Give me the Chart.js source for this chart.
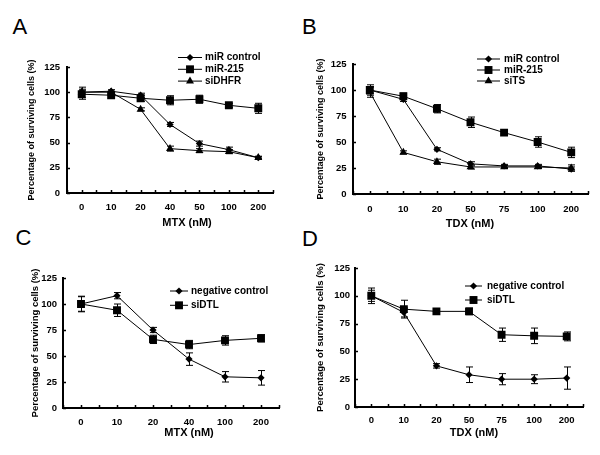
<!DOCTYPE html>
<html>
<head>
<meta charset="utf-8">
<script src="https://cdn.jsdelivr.net/npm/chart.js@4.4.1/dist/chart.umd.min.js"></script>
<style>
    body {
        margin: 0;
        width: 600px;
        height: 455px;
        background: #fff;
        position: relative;
        overflow: hidden;
        font-family: "Liberation Sans", Arial, sans-serif;
    }
    canvas { position: absolute; }
    .panel-letter {
        position: absolute;
        font-size: 22px;
        line-height: 22px;
        color: #000;
    }
    .x-title {
        position: absolute;
        font-size: 11px;
        font-weight: bold;
        line-height: 13px;
        color: #000;
        white-space: nowrap;
        transform: translateX(-50%);
    }
</style>
</head>
<body>
<div class="panel-letter" style="left:12.5px; top:15.7px;">A</div>
<div class="panel-letter" style="left:302px; top:15.5px;">B</div>
<div class="panel-letter" style="left:15.5px; top:226.9px;">C</div>
<div class="panel-letter" style="left:302px; top:227.5px;">D</div>

<canvas id="chartA" width="300" height="229" style="left:0; top:0;"></canvas>
<canvas id="chartB" width="300" height="229" style="left:300px; top:0;"></canvas>
<canvas id="chartC" width="300" height="226" style="left:0; top:229px;"></canvas>
<canvas id="chartD" width="300" height="226" style="left:300px; top:229px;"></canvas>

<div class="x-title" style="left:187px; top:215.6px;">MTX (nM)</div>
<div class="x-title" style="left:470px; top:216.6px;">TDX (nM)</div>
<div class="x-title" style="left:189px; top:425.6px;">MTX (nM)</div>
<div class="x-title" style="left:474px; top:425.6px;">TDX (nM)</div>

<script>
const FONT = '"Liberation Sans", Arial, sans-serif';
const Y_TITLE = 'Percentage of surviving cells (%)';
const Y_TICKS = [0, 25, 50, 75, 100, 125];

// Panel A - MTX
const dosesA = ['0', '10', '20', '40', '50', '100', '200'];
const miRControlA = [100, 101, 97, 68, 49, 43, 35];
const miRControlErrA = [2, 1.5, 2, 2, 2.5, 2.5, 1.5];
const miR215A = [98, 97, 94, 92, 93, 87, 84];
const miR215ErrA = [5, 1.5, 3, 4.5, 4, 2, 5];
const siDHFRA = [100, 100, 83, 44, 42, 41, 35];
const siDHFRErrA = [5, 1, 1.5, 2.5, 2, 2, 1];

// Panel B - TDX
const dosesB = ['0', '10', '20', '50', '75', '100', '200'];
const miRControlB = [100, 91, 43, 29, 27, 27, 24];
const miRControlErrB = [3, 2, 1.5, 2, 1.5, 1.5, 2];
const miR215B = [100, 94, 82, 69, 59, 50, 40];
const miR215ErrB = [5, 3, 4, 5, 2, 5, 5];
const siTSB = [98, 40, 31, 26, 26, 26, 25];
const siTSErrB = [5, 1.5, 2.5, 2, 1.5, 1.5, 3];

// Panel C - MTX
const dosesC = ['0', '10', '20', '40', '100', '200'];
const negControlC = [100, 108, 75, 47, 30, 29];
const negControlErrC = [7.5, 3, 2.5, 6, 5, 7];
const siDTLC = [100, 94, 66, 61, 65, 67];
const siDTLErrC = [7, 6, 4, 4, 4.5, 3.5];

// Panel D - TDX
const dosesD = ['0', '10', '20', '50', '75', '100', '200'];
const negControlD = [100, 85, 37, 29, 25, 25, 26];
const negControlErrD = [7, 4, 2, 7, 5, 4, 10];
const siDTLD = [100, 88, 86, 86, 65, 64, 63.5];
const siDTLErrD = [5, 8, 1.5, 3, 6, 7, 4];

const MARKERS = {
    diamond: { pointStyle: 'rectRot', radius: 3.6 },
    square: { pointStyle: 'rect', radius: 5.6 },
    triangle: { pointStyle: 'triangle', radius: 4.6 }
};

function drawMarker(ctx, style, x, y, r) {
    ctx.beginPath();
    if (style === 'rect') {
        const s = r * Math.SQRT1_2;
        ctx.rect(x - s, y - s, 2 * s, 2 * s);
    } else if (style === 'rectRot') {
        ctx.moveTo(x - r, y);
        ctx.lineTo(x, y - r);
        ctx.lineTo(x + r, y);
        ctx.lineTo(x, y + r);
        ctx.closePath();
    } else {
        ctx.moveTo(x, y - r);
        ctx.lineTo(x + r * Math.cos(Math.PI / 6), y + r / 2);
        ctx.lineTo(x - r * Math.cos(Math.PI / 6), y + r / 2);
        ctx.closePath();
    }
    ctx.fill();
}

// error bars (drawn under the markers) and the small inward tick marks
const errorBarsPlugin = {
    id: 'errorBars',
    beforeDatasetsDraw(chart) {
        const ctx = chart.ctx;
        const xs = chart.scales.x;
        const ys = chart.scales.y;
        ctx.save();
        ctx.strokeStyle = '#000';
        ctx.lineWidth = 1;
        chart.data.datasets.forEach(ds => {
            if (!ds.errors) return;
            ds.data.forEach((v, i) => {
                const e = ds.errors[i];
                const x = Math.round(xs.getPixelForValue(i)) + 0.5;
                const yTop = ys.getPixelForValue(v + e);
                const yBot = ys.getPixelForValue(v - e);
                ctx.beginPath();
                ctx.moveTo(x, yTop);
                ctx.lineTo(x, yBot);
                ctx.moveTo(x - 3.5, yTop);
                ctx.lineTo(x + 3.5, yTop);
                ctx.moveTo(x - 3.5, yBot);
                ctx.lineTo(x + 3.5, yBot);
                ctx.stroke();
            });
        });

        // tick marks
        const area = chart.chartArea;
        ctx.lineWidth = 1.5;
        ctx.beginPath();
        for (let i = -0.5; i <= xs.ticks.length - 0.5; i += 0.5) {
            const x = Math.round(xs.getPixelForValue(i)) + 0.5;
            ctx.moveTo(x, area.bottom);
            ctx.lineTo(x, area.bottom - 3);
        }
        Y_TICKS.forEach(t => {
            const y = Math.round(ys.getPixelForValue(t)) + 0.5;
            ctx.moveTo(area.left, y);
            ctx.lineTo(area.left + 3, y);
        });
        ctx.stroke();
        ctx.restore();
    }
};

// legend with a short line and the marker on it
const lineLegendPlugin = {
    id: 'lineLegend',
    afterDraw(chart, args, opts) {
        const ctx = chart.ctx;
        ctx.save();
        ctx.font = 'bold 10px ' + FONT;
        ctx.textBaseline = 'middle';
        ctx.fillStyle = '#000';
        ctx.strokeStyle = '#000';
        chart.data.datasets.forEach((ds, i) => {
            const y = opts.y0 + i * opts.gap;
            ctx.lineWidth = 1;
            ctx.beginPath();
            ctx.moveTo(opts.x0, y);
            ctx.lineTo(opts.x1, y);
            ctx.stroke();
            drawMarker(ctx, ds.pointStyle, (opts.x0 + opts.x1) / 2, y, ds.pointRadius);
            ctx.fillText(ds.label, opts.textX, y);
        });
        ctx.restore();
    }
};

function makeDataset(label, data, errors, marker) {
    const m = MARKERS[marker];
    return {
        label: label,
        data: data,
        errors: errors,
        borderColor: '#000',
        borderWidth: 1,
        backgroundColor: '#000',
        pointBackgroundColor: '#000',
        pointBorderWidth: 0,
        pointStyle: m.pointStyle,
        pointRadius: m.radius,
        tension: 0
    };
}

function createPanel(id, labels, datasets, lay) {
    const ctx = document.getElementById(id).getContext('2d');
    return new Chart(ctx, {
        type: 'line',
        data: { labels: labels, datasets: datasets },
        options: {
            responsive: false,
            animation: false,
            layout: { padding: { left: 0, top: lay.top, right: lay.right, bottom: 0 } },
            plugins: {
                legend: { display: false },
                tooltip: { enabled: false },
                lineLegend: lay.legend
            },
            scales: {
                x: {
                    type: 'category',
                    offset: true,
                    grid: { display: false, drawTicks: false },
                    border: { display: true, color: '#000', width: 2 },
                    ticks: {
                        color: '#000',
                        padding: lay.xPad,
                        maxRotation: 0,
                        autoSkip: false,
                        font: { family: FONT, size: 9.5, weight: 'bold' }
                    },
                    afterFit: s => { s.height = lay.xHeight; }
                },
                y: {
                    min: 0,
                    max: 125,
                    grid: { display: false, drawTicks: false },
                    border: { display: true, color: '#000', width: 2 },
                    ticks: {
                        stepSize: 25,
                        color: '#000',
                        padding: lay.yPad,
                        font: { family: FONT, size: 9.5, weight: 'bold' }
                    },
                    title: {
                        display: true,
                        text: Y_TITLE,
                        color: '#000',
                        padding: { top: lay.yTitlePad, bottom: 0 },
                        font: { family: FONT, size: lay.yTitleSize, weight: 'bold' }
                    },
                    afterFit: s => { s.width = lay.yWidth; }
                }
            }
        },
        plugins: [errorBarsPlugin, lineLegendPlugin]
    });
}

function init() {
    createPanel('chartA', dosesA, [
        makeDataset('miR control', miRControlA, miRControlErrA, 'diamond'),
        makeDataset('miR-215', miR215A, miR215ErrA, 'square'),
        makeDataset('siDHFR', siDHFRA, siDHFRErrA, 'triangle')
    ], {
        top: 67, right: 27, yWidth: 67, xHeight: 36, xPad: 8.3, yPad: 7,
        yTitlePad: 26.6, yTitleSize: 9,
        legend: { x0: 178, x1: 202, textX: 205, y0: 57.5, gap: 11.8 }
    });

    createPanel('chartB', dosesB, [
        makeDataset('miR control', miRControlB, miRControlErrB, 'diamond'),
        makeDataset('miR-215', miR215B, miR215ErrB, 'square'),
        makeDataset('siTS', siTSB, siTSErrB, 'triangle')
    ], {
        top: 64, right: 12, yWidth: 53, xHeight: 35, xPad: 9.3, yPad: 6.5,
        yTitlePad: 15.6, yTitleSize: 9,
        legend: { x0: 177, x1: 200, textX: 204, y0: 59, gap: 11 }
    });

    createPanel('chartC', dosesC, [
        makeDataset('negative control', negControlC, negControlErrC, 'diamond'),
        makeDataset('siDTL', siDTLC, siDTLErrC, 'square')
    ], {
        top: 49, right: 21, yWidth: 63, xHeight: 47, xPad: 8.3, yPad: 6,
        yTitlePad: 29.3, yTitleSize: 9.5,
        legend: { x0: 170, x1: 188, textX: 191, y0: 62, gap: 14.3 }
    });

    createPanel('chartD', dosesD, [
        makeDataset('negative control', negControlD, negControlErrD, 'diamond'),
        makeDataset('siDTL', siDTLD, siDTLErrD, 'square')
    ], {
        top: 39, right: 17, yWidth: 55, xHeight: 48, xPad: 7.3, yPad: 5,
        yTitlePad: 14.8, yTitleSize: 9.5,
        legend: { x0: 165, x1: 182, textX: 187, y0: 57, gap: 14 }
    });
}

document.addEventListener('DOMContentLoaded', init);
</script>
</body>
</html>
